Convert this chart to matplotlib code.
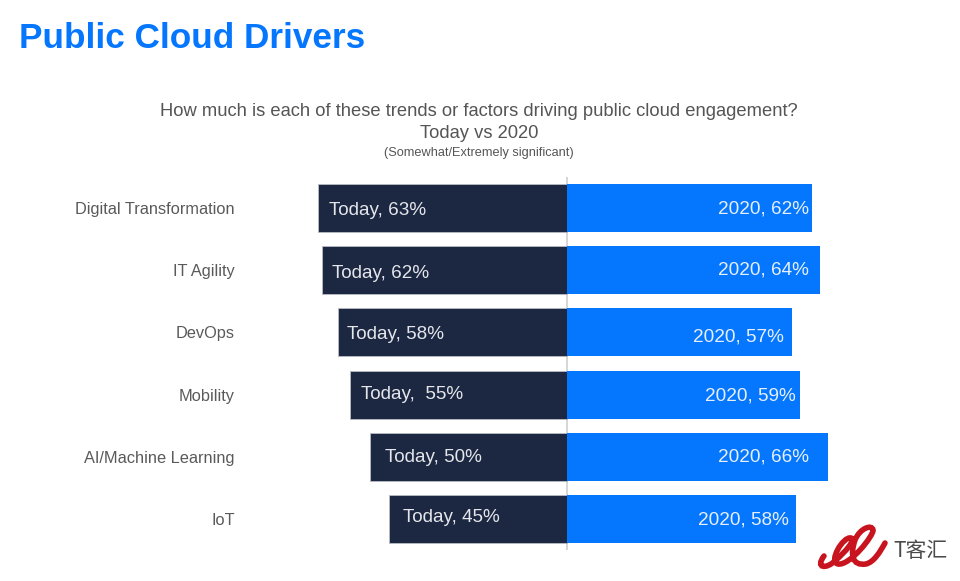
import numpy as np
import matplotlib
matplotlib.use("Agg")
import matplotlib.pyplot as plt
from matplotlib.path import Path
from matplotlib.patches import PathPatch

plt.rcParams['font.family'] = ['Liberation Sans', 'DejaVu Sans']

# data
categories = ['Digital Transformation', 'IT Agility', 'DevOps', 'Mobility', 'AI/Machine Learning', 'IoT']
today = [63, 62, 58, 55, 50, 45]
y2020 = [62, 64, 57, 59, 66, 58]
today_labels = ['Today, 63%', 'Today, 62%', 'Today, 58%', 'Today,  55%', 'Today, 50%', 'Today, 45%']
y2020_labels = ['2020, 62%', '2020, 64%', '2020, 57%', '2020, 59%', '2020, 66%', '2020, 58%']

navy = '#1c2742'
blue = '#0577fe'
W, H = 960, 581

# pixels per percent
scale = 3.95
zero_px = 567

fig = plt.figure(figsize=(W / 100, H / 100), dpi=100)
ax = fig.add_axes([235 / W, 1 - 550 / H, (840 - 235) / W, (550 - 177) / H])

pos = np.arange(len(categories))
ax.barh(pos, [-v for v in today], height=0.77, color=navy, edgecolor='#b8bcc4', linewidth=0.6)
ax.barh(pos, y2020, height=0.77, color=blue)
ax.axvline(0, color='#cfcfcf', lw=1.2, zorder=0)

ax.set_xlim((235 - zero_px) / scale, (840 - zero_px) / scale)
ax.set_ylim(5.5, -0.5)
ax.set_xticks([])
ax.set_yticks(pos, categories, fontsize=11.8, color='#5a5a5a')
ax.tick_params(axis='y', length=0, pad=0)
for s in ax.spines.values():
    s.set_visible(False)

# labels sit a bit unevenly in the original
left_pad = [2.8, 2.5, 2.3, 2.8, 3.8, 3.4]
right_pad = [0.8, 2.8, 2.2, 1.0, 4.7, 1.9]
left_dy = [0.04, 0.05, 0.03, 0.0, 0.02, -0.03]
right_dy = [0.02, 0.0, 0.08, 0.03, 0.0, 0.02]
for i in pos:
    ax.text(-today[i] + left_pad[i], i + left_dy[i], today_labels[i], color='#e4e6ea',
            fontsize=13.6, ha='left', va='center')
    ax.text(y2020[i] - right_pad[i], i + right_dy[i], y2020_labels[i], color='#e6effa',
            fontsize=13.7, ha='right', va='center')

# title block
fig.text(19 / W, 1 - 39 / H, 'Public Cloud Drivers', color=blue, fontsize=25.3,
         fontweight='bold', ha='left', va='center')
fig.text(479 / W, 1 - 112 / H, 'How much is each of these trends or factors driving public cloud engagement?',
         color='#555555', fontsize=13.2, ha='center', va='center')
fig.text(479 / W, 1 - 134 / H, 'Today vs 2020', color='#555555', fontsize=13.2, ha='center', va='center')
fig.text(479 / W, 1 - 153 / H, '(Somewhat/Extremely significant)', color='#555555', fontsize=9.2,
         ha='center', va='center')

# watermark logo, a looping ribbon stroke in pixel coords
logo = [(824, 556), (815, 568), (826, 570), (836, 560), (845, 552), (856, 540), (851, 538),
        (843, 536), (828, 562), (838, 564), (850, 566), (874, 535), (873, 530), (872, 524),
        (860, 528), (855, 540), (850, 555), (852, 566), (866, 564), (874, 562), (880, 552), (885, 543)]
codes = [Path.MOVETO] + [Path.CURVE4] * (len(logo) - 1)
to_fig = [(x / W, 1 - y / H) for x, y in logo]
fig.add_artist(PathPatch(Path(to_fig, codes), fill=False, edgecolor='#c8141e', lw=4,
                         capstyle='round', transform=fig.transFigure))
fig.text(893 / W, 1 - 551 / H, 'T客汇', color='#4a4a4a', fontsize=15,
         family=['Noto Sans CJK SC', 'DejaVu Sans'], ha='left', va='center')

fig.savefig('out.png', dpi=100)
